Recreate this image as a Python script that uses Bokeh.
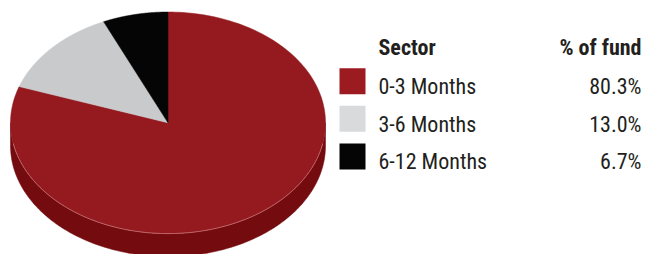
import numpy as np
from bokeh.plotting import figure
from bokeh.models import Range1d
from bokeh.core.properties import value
from bokeh.embed import file_html
from bokeh.resources import INLINE

# ---- data ----
categories = ["0-3 Months", "3-6 Months", "6-12 Months"]
values = [80.3, 13.0, 6.7]
pct_labels = ["80.3%", "13.0%", "6.7%"]
header_left = "Sector"
header_right = "% of fund"

top_colors = ["#951a1f", "#c9cacc", "#050505"]
side_colors = ["#740b0e", "#9a9b9d", "#000000"]
swatch_colors = ["#9c1b21", "#d9dadc", "#050505"]

# ---- geometry (page pixel coordinates) ----
CX, CY, RX, RY, DEPTH = 167.5, 122.3, 157.5, 110.8, 23.0
FONT = value("Roboto Condensed, Roboto")
TXT = "#231f20"
TEXT_SHIFT = 7.5  # renderer places alphabetic text slightly low

p = figure(width=646, height=254, output_backend="svg", toolbar_location=None,
           x_range=Range1d(0, 646), y_range=Range1d(254, 0), min_border=0,
           tools="")
p.axis.visible = False
p.grid.visible = False
p.outline_line_color = None
p.background_fill_color = "white"
p.border_fill_color = "white"


def pt(phi, dy=0.0):
    return CX + RX * np.sin(phi), CY - RY * np.cos(phi) + dy


total = float(sum(values))
starts, ends = [], []
acc = 0.0
for v in values:
    starts.append(acc / total * 2 * np.pi)
    acc += v
    ends.append(acc / total * 2 * np.pi)

# side walls (front half: phi in [pi/2, 3pi/2])
sx, sy, sc = [], [], []
for a0, a1, c in zip(starts, ends, side_colors):
    lo, hi = max(a0, np.pi / 2), min(a1, 3 * np.pi / 2)
    if hi <= lo:
        continue
    ph = np.linspace(lo, hi, 120)
    tx, ty = pt(ph)
    bx, by = pt(ph[::-1], DEPTH)
    sx.append(list(np.concatenate([tx, bx])))
    sy.append(list(np.concatenate([ty, by])))
    sc.append(c)
p.patches(sx, sy, fill_color=sc, line_color=sc, line_width=0.5)

# top face wedges
wx, wy = [], []
for a0, a1 in zip(starts, ends):
    ph = np.linspace(a0, a1, 200)
    ax, ay = pt(ph)
    wx.append([CX] + list(ax))
    wy.append([CY] + list(ay))
p.patches(wx, wy, fill_color=top_colors, line_color=top_colors, line_width=0.5)

# light rim along the front edge of the top face
ph = np.linspace(np.pi * 0.56, np.pi * 1.44, 200)
rx_, ry_ = pt(ph)
p.line(rx_, ry_, line_color="#c8777a", line_width=1, line_alpha=0.8)

# ---- legend table ----
sw_x, sw_size = 352.0, 26.0
row_bottom0, row_step = 93.7, 37.6
bottoms = [row_bottom0 + i * row_step for i in range(len(categories))]
p.rect(x=[sw_x] * len(categories), y=[b - sw_size / 2 for b in bottoms],
       width=sw_size, height=sw_size, fill_color=swatch_colors, line_color=None)

base = [b - TEXT_SHIFT for b in bottoms]
p.text(x=[378] * len(categories), y=base, text=categories, text_font=FONT,
       text_font_size="22px", text_color=TXT, text_baseline="alphabetic",
       text_align="left")
p.text(x=[641] * len(categories), y=base, text=pct_labels, text_font=FONT,
       text_font_size="22px", text_color=TXT, text_baseline="alphabetic",
       text_align="right")
hb = 54.0 - TEXT_SHIFT
p.text(x=[378], y=[hb], text=[header_left], text_font=FONT,
       text_font_size="22px", text_font_style="bold", text_color=TXT,
       text_baseline="alphabetic", text_align="left")
p.text(x=[641], y=[hb], text=[header_right], text_font=FONT,
       text_font_size="22px", text_font_style="bold", text_color=TXT,
       text_baseline="alphabetic", text_align="right")

open("out.html", "w").write(file_html(p, INLINE))
